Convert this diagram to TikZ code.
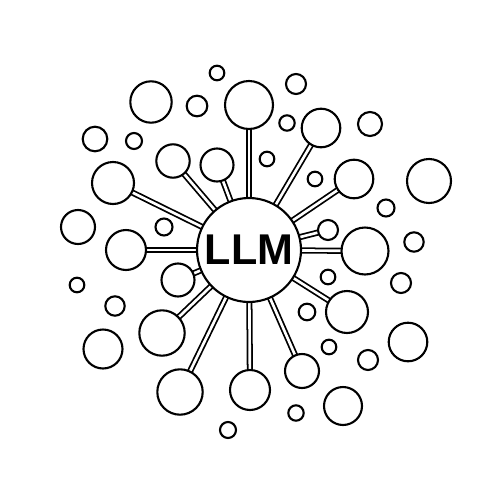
\documentclass[tikz,border=0pt]{standalone}
\usepackage{fontspec}
\setmainfont{Liberation Sans}
\pgfdeclarelayer{bg}
\pgfsetlayers{bg,main}
\begin{document}
\begin{tikzpicture}[x=0.02cm,y=-0.02cm,
  c/.style={circle,draw=black,fill=white,line width=1.2pt,inner sep=0pt,minimum size=#1*0.04cm},
  spoke/.style={draw=black,line width=1pt,double=white,double distance=1.5pt}]
\useasboundingbox (0,0) rectangle (500,500);
% central
\node[c=52,font=\bfseries\fontsize{24.5}{26}\selectfont] (llm) at (249,250) {LLM};
% connected circles
\node[c=24] (s1) at (249,105) {};
\node[c=19.3] (s2) at (321,128) {};
\node[c=19.3] (s3) at (354,179) {};
\node[c=10] (s4) at (328,230) {};
\node[c=23.5] (s5) at (365,251) {};
\node[c=21] (s6) at (347,312) {};
\node[c=17] (s7) at (302,371) {};
\node[c=20] (s8) at (250,390) {};
\node[c=22.7] (s9) at (180,392) {};
\node[c=22.7] (s10) at (162,333) {};
\node[c=16.5] (s11) at (178,280) {};
\node[c=20] (s12) at (126,250) {};
\node[c=21] (s13) at (113,183) {};
\node[c=16.7] (s14) at (173,161) {};
\node[c=16.5] (s15) at (217,165) {};
% free circles
\node[c=7.3] (f1) at (217,73) {};
\node[c=20.7] (f2) at (151,102) {};
\node[c=10.3] (f3) at (197,106) {};
\node[c=12.3] (f4) at (95,139) {};
\node[c=8] (f5) at (134,141) {};
\node[c=17] (f6) at (78,227) {};
\node[c=8.5] (f7) at (164,227) {};
\node[c=10] (f8) at (296,84) {};
\node[c=7.7] (f9) at (287,123) {};
\node[c=7.3] (f10) at (267,159) {};
\node[c=12] (f11) at (370,124) {};
\node[c=7.3] (f12) at (315,179) {};
\node[c=22] (f13) at (429,181) {};
\node[c=8.5] (f14) at (386,208) {};
\node[c=9.7] (f15) at (414,242) {};
\node[c=7.3] (f16) at (77,285) {};
\node[c=9.7] (f17) at (115,306) {};
\node[c=19.5] (f18) at (103,349) {};
\node[c=8] (f19) at (228,430) {};
\node[c=7.3] (f20) at (328,277) {};
\node[c=10] (f21) at (401,283) {};
\node[c=8.3] (f22) at (307,312) {};
\node[c=7.3] (f23) at (329,347) {};
\node[c=19.3] (f24) at (408,342) {};
\node[c=10] (f25) at (368,360) {};
\node[c=19] (f26) at (343,406) {};
\node[c=7.7] (f27) at (296,413) {};
\begin{pgfonlayer}{bg}
\fill[white] (0,0) rectangle (500,500);
\foreach \s in {s1,s2,s3,s4,s5,s6,s7,s8,s9,s10,s11,s12,s13,s14,s15}
  \draw[spoke] (llm.center) -- (\s.center);
\end{pgfonlayer}
\end{tikzpicture}
\end{document}
